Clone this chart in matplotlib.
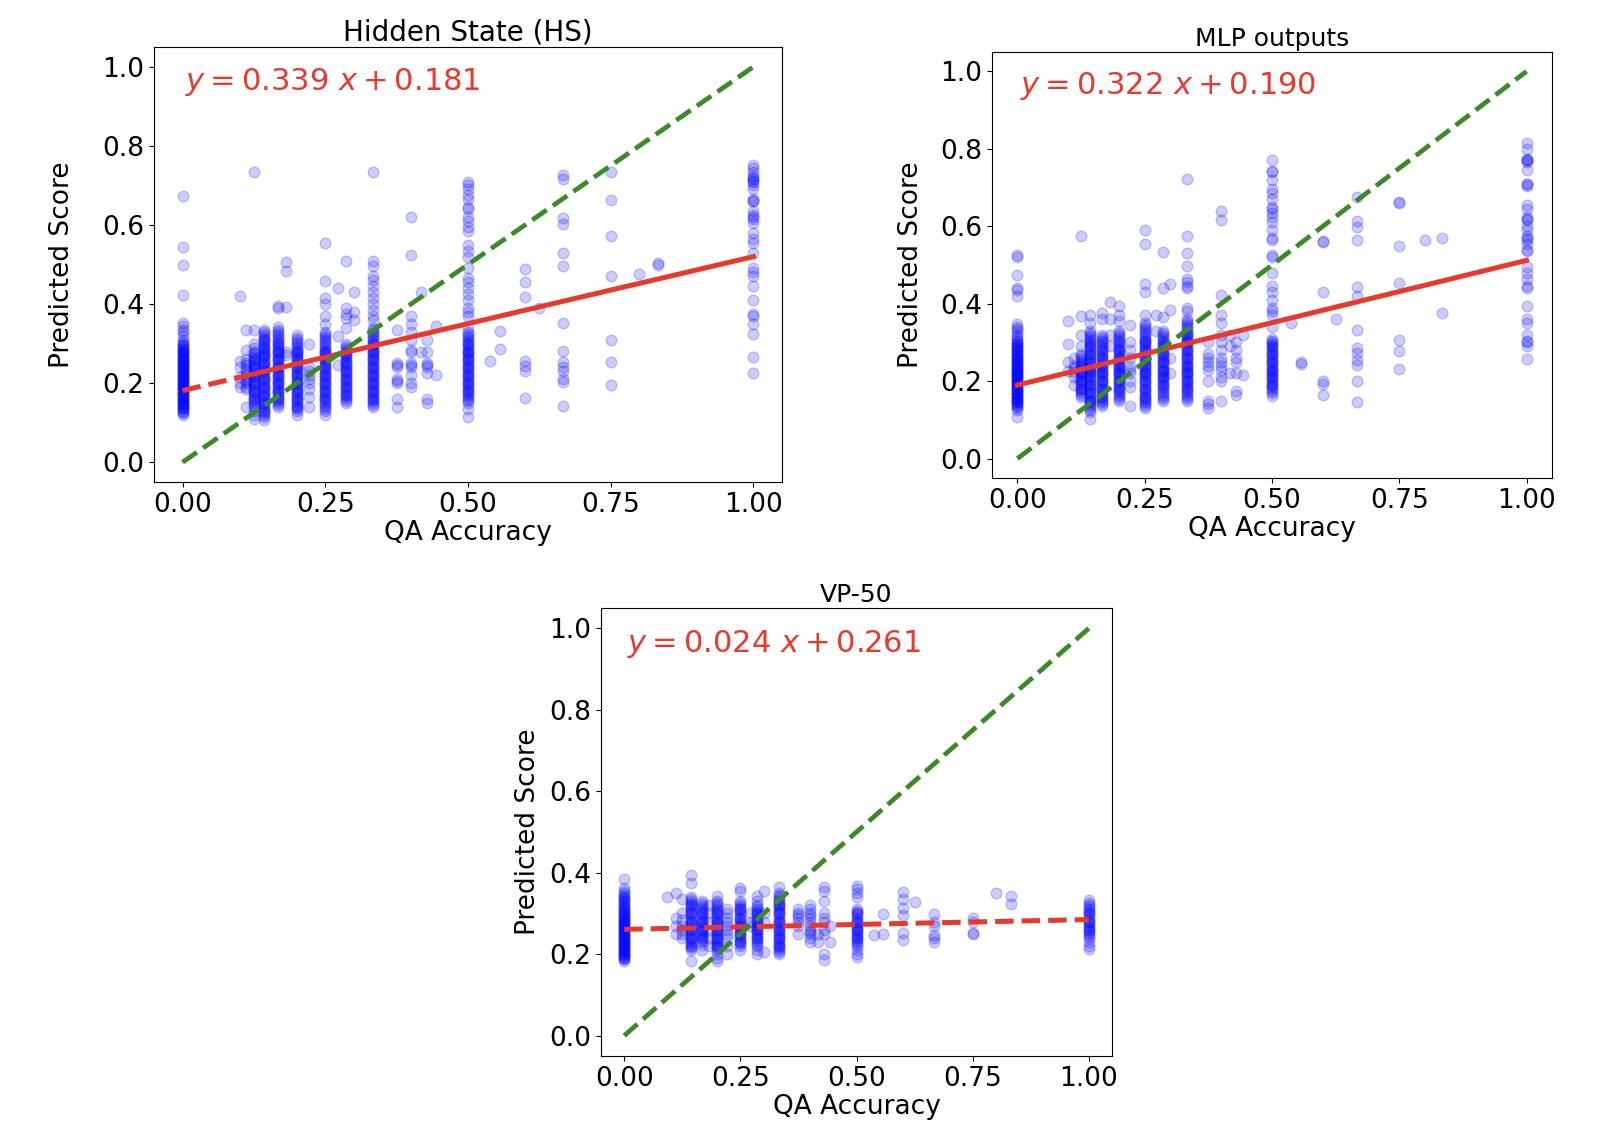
import matplotlib
matplotlib.use("Agg")
import matplotlib.pyplot as plt

# -------------------------------
# Style
# -------------------------------
POINT_COLOR = "blue"
FIT_COLOR = "#e8392b"
IDEAL_COLOR = "#3b8a26"
TICK_SIZE = 19
LABEL_SIZE = 19
EQ_SIZE = 22

# -------------------------------
# Data: QA accuracy levels and predicted scores per level
# -------------------------------
hs_acc = [0.0, 0.1, 0.111, 0.125, 0.143, 0.167, 0.182, 0.2, 0.222, 0.25, 0.273, 0.286, 0.3,
          0.333, 0.375, 0.4, 0.417, 0.429, 0.444, 0.5, 0.538, 0.556, 0.6, 0.625, 0.667,
          0.75, 0.8, 0.833, 1.0]
hs_scores = [
    [0.672, 0.544, 0.499, 0.422, 0.353, 0.345, 0.335, 0.33, 0.32, 0.31, 0.305, 0.30, 0.295,
     0.29, 0.285, 0.28, 0.275, 0.27, 0.265, 0.26, 0.255, 0.25, 0.245, 0.24, 0.235, 0.23,
     0.225, 0.22, 0.215, 0.21, 0.205, 0.20, 0.195, 0.19, 0.185, 0.18, 0.175, 0.17, 0.165,
     0.16, 0.155, 0.15, 0.145, 0.14, 0.135, 0.13, 0.125, 0.12, 0.28, 0.26, 0.25, 0.24, 0.23,
     0.22, 0.21, 0.20, 0.19, 0.18, 0.17, 0.16, 0.15, 0.14, 0.297, 0.287, 0.277, 0.267,
     0.257, 0.247, 0.237, 0.227, 0.217, 0.207, 0.197, 0.187, 0.177, 0.167, 0.157, 0.147,
     0.137, 0.127],
    [0.42, 0.255, 0.24, 0.215, 0.20, 0.19],
    [0.335, 0.285, 0.26, 0.25, 0.245, 0.235, 0.23, 0.22, 0.215, 0.205, 0.20, 0.19, 0.185,
     0.14],
    [0.735, 0.335, 0.30, 0.29, 0.28, 0.275, 0.27, 0.265, 0.26, 0.255, 0.25, 0.245, 0.24,
     0.235, 0.23, 0.225, 0.22, 0.215, 0.21, 0.205, 0.20, 0.195, 0.19, 0.185, 0.18, 0.175,
     0.17, 0.165, 0.16, 0.155, 0.15, 0.145, 0.14, 0.13, 0.12, 0.11, 0.26, 0.24, 0.22, 0.20,
     0.18, 0.16],
    [0.335, 0.33, 0.325, 0.32, 0.315, 0.31, 0.305, 0.30, 0.295, 0.29, 0.285, 0.28, 0.275,
     0.27, 0.265, 0.26, 0.255, 0.25, 0.245, 0.24, 0.235, 0.23, 0.225, 0.22, 0.215, 0.21,
     0.205, 0.20, 0.195, 0.19, 0.185, 0.18, 0.175, 0.17, 0.165, 0.16, 0.155, 0.15, 0.145,
     0.14, 0.135, 0.13, 0.125, 0.12, 0.115, 0.108, 0.31, 0.29, 0.27, 0.25, 0.23, 0.21, 0.19,
     0.17, 0.15, 0.13],
    [0.395, 0.39, 0.343, 0.335, 0.33, 0.325, 0.32, 0.315, 0.31, 0.305, 0.30, 0.295, 0.29,
     0.285, 0.28, 0.275, 0.27, 0.265, 0.26, 0.255, 0.25, 0.245, 0.24, 0.235, 0.23, 0.225,
     0.22, 0.215, 0.21, 0.205, 0.20, 0.195, 0.19, 0.185, 0.18, 0.175, 0.17, 0.165, 0.16,
     0.155, 0.15, 0.145, 0.14, 0.30, 0.28, 0.26, 0.24, 0.22, 0.20, 0.18, 0.16],
    [0.507, 0.483, 0.393, 0.28, 0.27],
    [0.321, 0.315, 0.31, 0.305, 0.30, 0.295, 0.29, 0.285, 0.28, 0.275, 0.27, 0.265, 0.26,
     0.255, 0.25, 0.245, 0.24, 0.235, 0.23, 0.225, 0.22, 0.215, 0.21, 0.205, 0.20, 0.195,
     0.19, 0.185, 0.18, 0.175, 0.17, 0.165, 0.16, 0.155, 0.15, 0.145, 0.14, 0.135, 0.13,
     0.119, 0.28, 0.26, 0.24, 0.22, 0.20, 0.18, 0.16, 0.14],
    [0.30, 0.24, 0.23, 0.22, 0.21, 0.20, 0.185, 0.165, 0.14],
    [0.555, 0.458, 0.415, 0.40, 0.37, 0.35, 0.33, 0.325, 0.32, 0.315, 0.31, 0.305, 0.30,
     0.295, 0.29, 0.285, 0.28, 0.275, 0.27, 0.265, 0.26, 0.255, 0.25, 0.245, 0.24, 0.235,
     0.23, 0.225, 0.22, 0.215, 0.21, 0.205, 0.20, 0.195, 0.19, 0.185, 0.18, 0.175, 0.17,
     0.165, 0.16, 0.155, 0.15, 0.145, 0.14, 0.135, 0.13, 0.12, 0.28, 0.26, 0.24, 0.22, 0.20,
     0.18, 0.16],
    [0.44, 0.32, 0.245],
    [0.51, 0.39, 0.375, 0.365, 0.34, 0.30, 0.295, 0.29, 0.285, 0.28, 0.275, 0.27, 0.265,
     0.26, 0.255, 0.25, 0.245, 0.24, 0.235, 0.23, 0.225, 0.22, 0.215, 0.21, 0.205, 0.20,
     0.195, 0.19, 0.185, 0.18, 0.175, 0.17, 0.165, 0.16, 0.155, 0.15, 0.27, 0.25, 0.23,
     0.21, 0.19, 0.17],
    [0.43, 0.38, 0.36],
    [0.735, 0.51, 0.495, 0.47, 0.46, 0.445, 0.43, 0.415, 0.40, 0.385, 0.37, 0.36, 0.34,
     0.335, 0.33, 0.325, 0.32, 0.315, 0.31, 0.305, 0.30, 0.295, 0.29, 0.285, 0.28, 0.275,
     0.27, 0.265, 0.26, 0.255, 0.25, 0.245, 0.24, 0.235, 0.23, 0.225, 0.22, 0.215, 0.21,
     0.205, 0.20, 0.195, 0.19, 0.185, 0.18, 0.175, 0.17, 0.165, 0.16, 0.155, 0.15, 0.145,
     0.14, 0.30, 0.28, 0.26, 0.24, 0.22, 0.20, 0.18, 0.16],
    [0.335, 0.25, 0.245, 0.24, 0.21, 0.205, 0.20, 0.16, 0.14],
    [0.62, 0.525, 0.37, 0.35, 0.33, 0.31, 0.285, 0.28, 0.25, 0.245, 0.24, 0.22, 0.20, 0.19],
    [0.43, 0.28],
    [0.31, 0.28, 0.25, 0.245, 0.24, 0.225, 0.16, 0.15],
    [0.345, 0.22],
    [0.709, 0.70, 0.69, 0.675, 0.665, 0.645, 0.64, 0.62, 0.61, 0.595, 0.585, 0.55, 0.535,
     0.52, 0.49, 0.465, 0.455, 0.44, 0.425, 0.41, 0.39, 0.38, 0.37, 0.34, 0.33, 0.325, 0.32,
     0.315, 0.31, 0.305, 0.30, 0.295, 0.29, 0.285, 0.28, 0.275, 0.27, 0.265, 0.26, 0.255,
     0.25, 0.245, 0.24, 0.235, 0.23, 0.225, 0.22, 0.215, 0.21, 0.205, 0.20, 0.195, 0.19,
     0.185, 0.18, 0.175, 0.17, 0.165, 0.16, 0.155, 0.15, 0.135, 0.115, 0.30, 0.28, 0.26,
     0.24, 0.22, 0.20, 0.18],
    [0.255],
    [0.332, 0.287],
    [0.489, 0.457, 0.417, 0.256, 0.243, 0.23, 0.163],
    [0.39],
    [0.726, 0.715, 0.617, 0.603, 0.529, 0.497, 0.352, 0.282, 0.254, 0.241, 0.23, 0.21,
     0.203, 0.143],
    [0.735, 0.663, 0.573, 0.47, 0.31, 0.254, 0.196],
    [0.477],
    [0.503, 0.50],
    [0.752, 0.745, 0.735, 0.725, 0.715, 0.708, 0.70, 0.69, 0.665, 0.66, 0.635, 0.625, 0.615,
     0.605, 0.58, 0.565, 0.555, 0.53, 0.49, 0.48, 0.47, 0.445, 0.41, 0.375, 0.37, 0.35,
     0.323, 0.265, 0.226, 0.72, 0.71, 0.66, 0.62],
]

mlp_acc = [0.0, 0.1, 0.111, 0.125, 0.143, 0.167, 0.182, 0.2, 0.222, 0.25, 0.273, 0.286, 0.3,
           0.333, 0.375, 0.4, 0.417, 0.429, 0.444, 0.5, 0.538, 0.556, 0.6, 0.625, 0.667,
           0.75, 0.8, 0.833, 1.0]
mlp_scores = [
    [0.526, 0.52, 0.475, 0.44, 0.435, 0.419, 0.348, 0.34, 0.335, 0.33, 0.32, 0.31, 0.305,
     0.30, 0.295, 0.29, 0.285, 0.28, 0.275, 0.27, 0.265, 0.26, 0.255, 0.25, 0.245, 0.24,
     0.235, 0.23, 0.225, 0.22, 0.215, 0.21, 0.205, 0.20, 0.195, 0.19, 0.185, 0.18, 0.175,
     0.17, 0.165, 0.16, 0.155, 0.15, 0.145, 0.14, 0.135, 0.13, 0.125, 0.107, 0.28, 0.26,
     0.25, 0.24, 0.23, 0.22, 0.21, 0.20, 0.19, 0.18, 0.17, 0.16, 0.15, 0.317, 0.297, 0.287,
     0.277, 0.267, 0.257, 0.247, 0.237, 0.227, 0.217, 0.207, 0.197, 0.187, 0.177, 0.167,
     0.157, 0.147, 0.137],
    [0.355, 0.297, 0.25, 0.227],
    [0.26, 0.24, 0.235, 0.225, 0.21, 0.19],
    [0.574, 0.368, 0.32, 0.29, 0.27, 0.265, 0.26, 0.255, 0.25, 0.245, 0.24, 0.235, 0.23,
     0.225, 0.22, 0.215, 0.21, 0.205, 0.20, 0.195, 0.19, 0.185, 0.18, 0.175, 0.17, 0.165,
     0.16, 0.24, 0.22, 0.20, 0.18],
    [0.37, 0.35, 0.33, 0.325, 0.32, 0.315, 0.31, 0.305, 0.30, 0.295, 0.29, 0.285, 0.28,
     0.275, 0.27, 0.265, 0.26, 0.255, 0.25, 0.245, 0.24, 0.235, 0.23, 0.225, 0.22, 0.215,
     0.21, 0.205, 0.20, 0.195, 0.19, 0.185, 0.18, 0.175, 0.17, 0.165, 0.16, 0.155, 0.15,
     0.145, 0.14, 0.135, 0.13, 0.125, 0.12, 0.103, 0.29, 0.27, 0.25, 0.23, 0.21, 0.19,
     0.17, 0.15],
    [0.375, 0.36, 0.32, 0.315, 0.31, 0.305, 0.30, 0.295, 0.29, 0.285, 0.28, 0.275, 0.27,
     0.265, 0.26, 0.255, 0.25, 0.245, 0.24, 0.235, 0.23, 0.225, 0.22, 0.215, 0.21, 0.205,
     0.20, 0.195, 0.19, 0.185, 0.18, 0.175, 0.17, 0.165, 0.16, 0.155, 0.15, 0.145, 0.14,
     0.135, 0.28, 0.26, 0.24, 0.22, 0.20, 0.18, 0.16],
    [0.405, 0.36, 0.32, 0.29],
    [0.394, 0.37, 0.355, 0.33, 0.325, 0.32, 0.315, 0.31, 0.305, 0.30, 0.295, 0.29, 0.285,
     0.28, 0.275, 0.27, 0.265, 0.26, 0.255, 0.25, 0.245, 0.24, 0.235, 0.23, 0.225, 0.22,
     0.215, 0.21, 0.205, 0.20, 0.195, 0.19, 0.185, 0.18, 0.175, 0.17, 0.165, 0.16, 0.155,
     0.15, 0.28, 0.26, 0.24, 0.22, 0.20, 0.18],
    [0.345, 0.30, 0.28, 0.26, 0.24, 0.23, 0.22, 0.20, 0.185, 0.135],
    [0.591, 0.554, 0.45, 0.43, 0.37, 0.35, 0.345, 0.34, 0.335, 0.33, 0.325, 0.32, 0.315,
     0.31, 0.305, 0.30, 0.295, 0.29, 0.285, 0.28, 0.275, 0.27, 0.265, 0.26, 0.255, 0.25,
     0.245, 0.24, 0.235, 0.23, 0.225, 0.22, 0.215, 0.21, 0.205, 0.20, 0.195, 0.19, 0.185,
     0.18, 0.175, 0.17, 0.165, 0.16, 0.155, 0.15, 0.145, 0.14, 0.135, 0.13, 0.30, 0.28,
     0.26, 0.24, 0.22, 0.20, 0.18, 0.16],
    [0.37, 0.33],
    [0.533, 0.44, 0.365, 0.33, 0.325, 0.32, 0.315, 0.31, 0.305, 0.30, 0.295, 0.29, 0.285,
     0.28, 0.275, 0.27, 0.265, 0.26, 0.255, 0.25, 0.245, 0.24, 0.235, 0.23, 0.225, 0.22,
     0.215, 0.21, 0.205, 0.20, 0.195, 0.19, 0.185, 0.18, 0.175, 0.17, 0.165, 0.16, 0.155,
     0.15, 0.29, 0.27, 0.25, 0.23, 0.21, 0.19],
    [0.45, 0.385, 0.26, 0.22],
    [0.723, 0.574, 0.532, 0.498, 0.465, 0.455, 0.445, 0.44, 0.39, 0.38, 0.36, 0.355, 0.35,
     0.345, 0.34, 0.335, 0.33, 0.325, 0.32, 0.315, 0.31, 0.305, 0.30, 0.295, 0.29, 0.285,
     0.28, 0.275, 0.27, 0.265, 0.26, 0.255, 0.25, 0.245, 0.24, 0.235, 0.23, 0.225, 0.22,
     0.215, 0.21, 0.205, 0.20, 0.195, 0.19, 0.185, 0.18, 0.175, 0.17, 0.165, 0.16, 0.155,
     0.15, 0.32, 0.30, 0.28, 0.26, 0.24, 0.22, 0.20, 0.18],
    [0.30, 0.27, 0.26, 0.25, 0.24, 0.23, 0.20, 0.15, 0.14, 0.13],
    [0.64, 0.616, 0.423, 0.37, 0.35, 0.32, 0.30, 0.28, 0.26, 0.25, 0.24, 0.23, 0.21, 0.20,
     0.15],
    [0.32, 0.29, 0.22],
    [0.30, 0.28, 0.26, 0.25, 0.22, 0.175, 0.165],
    [0.32, 0.215],
    [0.772, 0.742, 0.74, 0.72, 0.695, 0.685, 0.67, 0.65, 0.645, 0.635, 0.625, 0.61, 0.59,
     0.57, 0.565, 0.525, 0.52, 0.48, 0.445, 0.43, 0.41, 0.39, 0.38, 0.37, 0.34, 0.31, 0.305,
     0.30, 0.295, 0.29, 0.285, 0.28, 0.275, 0.27, 0.265, 0.26, 0.255, 0.25, 0.245, 0.24,
     0.235, 0.23, 0.225, 0.22, 0.215, 0.21, 0.205, 0.20, 0.195, 0.19, 0.185, 0.18, 0.175,
     0.17, 0.163, 0.29, 0.27, 0.25, 0.23, 0.21, 0.19],
    [0.35],
    [0.25, 0.245],
    [0.562, 0.56, 0.43, 0.20, 0.192, 0.165],
    [0.361],
    [0.675, 0.613, 0.598, 0.565, 0.444, 0.42, 0.333, 0.285, 0.272, 0.254, 0.241, 0.20, 0.147],
    [0.663, 0.66, 0.55, 0.454, 0.306, 0.277, 0.232],
    [0.564],
    [0.571, 0.377],
    [0.814, 0.80, 0.775, 0.77, 0.765, 0.745, 0.71, 0.705, 0.655, 0.645, 0.625, 0.615, 0.60,
     0.59, 0.575, 0.565, 0.555, 0.54, 0.535, 0.495, 0.48, 0.465, 0.445, 0.44, 0.395, 0.36,
     0.35, 0.32, 0.305, 0.30, 0.29, 0.257, 0.77, 0.71, 0.62, 0.57],
]

vp_acc = [0.0, 0.091, 0.111, 0.125, 0.143, 0.167, 0.182, 0.2, 0.222, 0.25, 0.273, 0.286,
          0.3, 0.333, 0.375, 0.4, 0.417, 0.429, 0.444, 0.5, 0.538, 0.556, 0.6, 0.625, 0.667,
          0.75, 0.8, 0.833, 1.0]
vp_scores = [
    [0.385, 0.363, 0.355, 0.35, 0.345, 0.34, 0.335, 0.33, 0.325, 0.32, 0.315, 0.31, 0.305,
     0.30, 0.295, 0.29, 0.285, 0.28, 0.275, 0.27, 0.265, 0.26, 0.255, 0.25, 0.245, 0.24,
     0.235, 0.23, 0.225, 0.22, 0.215, 0.21, 0.205, 0.20, 0.195, 0.19, 0.184, 0.30, 0.29,
     0.28, 0.27, 0.26, 0.25, 0.24, 0.23, 0.22, 0.21, 0.20, 0.19, 0.337, 0.327, 0.317,
     0.307, 0.297, 0.287, 0.277, 0.267, 0.257, 0.247, 0.237, 0.227, 0.217, 0.207, 0.197,
     0.187],
    [0.34],
    [0.351, 0.288, 0.27, 0.25],
    [0.336, 0.30, 0.285, 0.27, 0.26, 0.25, 0.24],
    [0.395, 0.374, 0.34, 0.335, 0.33, 0.325, 0.32, 0.315, 0.31, 0.305, 0.30, 0.295, 0.29,
     0.285, 0.28, 0.275, 0.27, 0.265, 0.26, 0.255, 0.25, 0.245, 0.24, 0.235, 0.23, 0.225,
     0.22, 0.215, 0.21, 0.184, 0.32, 0.30, 0.28, 0.26, 0.24, 0.22],
    [0.33, 0.325, 0.32, 0.315, 0.31, 0.305, 0.30, 0.295, 0.29, 0.285, 0.28, 0.275, 0.27,
     0.265, 0.26, 0.255, 0.25, 0.245, 0.24, 0.235, 0.23, 0.222, 0.21, 0.30, 0.28, 0.26,
     0.24],
    [0.32, 0.30, 0.28, 0.26, 0.24, 0.22],
    [0.342, 0.33, 0.325, 0.32, 0.315, 0.31, 0.305, 0.30, 0.295, 0.29, 0.285, 0.28, 0.275,
     0.27, 0.265, 0.26, 0.255, 0.25, 0.245, 0.24, 0.235, 0.23, 0.225, 0.22, 0.215, 0.21,
     0.20, 0.19, 0.184, 0.30, 0.28, 0.26, 0.24, 0.22],
    [0.31, 0.30, 0.29, 0.28, 0.27, 0.26, 0.25, 0.24, 0.22, 0.20],
    [0.363, 0.355, 0.33, 0.325, 0.32, 0.315, 0.31, 0.305, 0.30, 0.295, 0.29, 0.285, 0.28,
     0.275, 0.27, 0.265, 0.26, 0.255, 0.25, 0.245, 0.24, 0.235, 0.23, 0.225, 0.22, 0.21,
     0.31, 0.29, 0.27, 0.25, 0.23],
    [0.30, 0.28, 0.27],
    [0.342, 0.33, 0.32, 0.315, 0.31, 0.305, 0.30, 0.295, 0.29, 0.285, 0.28, 0.275, 0.27,
     0.265, 0.26, 0.255, 0.25, 0.245, 0.24, 0.235, 0.23, 0.225, 0.22, 0.21, 0.20, 0.30,
     0.28, 0.26, 0.24],
    [0.355, 0.30, 0.28, 0.205],
    [0.364, 0.35, 0.345, 0.34, 0.335, 0.33, 0.325, 0.32, 0.315, 0.31, 0.305, 0.30, 0.295,
     0.29, 0.285, 0.28, 0.275, 0.27, 0.265, 0.26, 0.255, 0.25, 0.245, 0.24, 0.235, 0.23,
     0.225, 0.22, 0.215, 0.21, 0.205, 0.20, 0.32, 0.30, 0.28, 0.26, 0.24, 0.22],
    [0.31, 0.30, 0.295, 0.29, 0.28, 0.27, 0.25],
    [0.32, 0.31, 0.30, 0.295, 0.29, 0.28, 0.27, 0.26, 0.255, 0.25, 0.24, 0.23],
    [0.25, 0.23],
    [0.364, 0.354, 0.33, 0.30, 0.29, 0.28, 0.26, 0.25, 0.20, 0.185],
    [0.27, 0.23],
    [0.367, 0.36, 0.35, 0.34, 0.31, 0.305, 0.30, 0.295, 0.29, 0.285, 0.28, 0.275, 0.27,
     0.265, 0.26, 0.255, 0.25, 0.245, 0.24, 0.235, 0.23, 0.225, 0.22, 0.21, 0.20, 0.193,
     0.30, 0.28, 0.26, 0.24],
    [0.246],
    [0.298, 0.25],
    [0.352, 0.336, 0.314, 0.297, 0.253, 0.235],
    [0.327],
    [0.298, 0.279, 0.27, 0.248, 0.24, 0.229],
    [0.29, 0.279, 0.253, 0.25],
    [0.349],
    [0.344, 0.323],
    [0.332, 0.325, 0.32, 0.315, 0.31, 0.305, 0.30, 0.295, 0.29, 0.285, 0.28, 0.275, 0.27,
     0.265, 0.26, 0.255, 0.25, 0.245, 0.24, 0.23, 0.22, 0.213, 0.30, 0.28, 0.26],
]

# fitted lines (slope, intercept) as printed on each panel
hs_fit = (0.339, 0.181)
mlp_fit = (0.322, 0.190)
vp_fit = (0.024, 0.261)

# where the red fit line turns from dashed to solid
hs_solid_from = 0.1
mlp_solid_from = 0.0
vp_solid_from = 1.0


def draw_panel(ax, acc, scores, fit, solid_from, title, title_size, ypad):
    xs = [a for a, col in zip(acc, scores) for _ in col]
    ys = [v for col in scores for v in col]
    ax.scatter(xs, ys, s=60, color=POINT_COLOR, alpha=0.2)

    slope, icpt = fit
    if solid_from > 0:
        ax.plot([0, solid_from], [icpt, slope * solid_from + icpt], "--",
                color=FIT_COLOR, lw=3.6)
    if solid_from < 1:
        ax.plot([solid_from, 1], [slope * solid_from + icpt, slope + icpt], "-",
                color=FIT_COLOR, lw=3.6)

    ax.plot([0, 1], [0, 1], "--", color=IDEAL_COLOR, lw=3.4)

    ax.text(0.05, 0.92, rf"$y = {slope:.3f}\ x + {icpt:.3f}$", color=FIT_COLOR,
            fontsize=EQ_SIZE, transform=ax.transAxes, va="center", ha="left")

    ax.set_xticks([0, 0.25, 0.5, 0.75, 1.0])
    ax.set_xticklabels(["0.00", "0.25", "0.50", "0.75", "1.00"])
    ax.set_yticks([0, 0.2, 0.4, 0.6, 0.8, 1.0])
    ax.tick_params(labelsize=TICK_SIZE)
    ax.set_xlabel("QA Accuracy", fontsize=LABEL_SIZE, labelpad=2)
    ax.set_ylabel("Predicted Score", fontsize=LABEL_SIZE, labelpad=ypad)
    ax.set_title(title, fontsize=title_size, pad=4)


W, H = 1610, 1144
fig = plt.figure(figsize=(W / 100, H / 100), dpi=100)


def box(left, top, right, bottom):
    return [left / W, 1 - bottom / H, (right - left) / W, (bottom - top) / H]


ax_hs = fig.add_axes(box(154, 47, 782, 482))
ax_mlp = fig.add_axes(box(992, 52, 1552, 478))
ax_vp = fig.add_axes(box(601, 608, 1112, 1056))

draw_panel(ax_hs, hs_acc, hs_scores, hs_fit, hs_solid_from, "Hidden State (HS)", 20, 20)
draw_panel(ax_mlp, mlp_acc, mlp_scores, mlp_fit, mlp_solid_from, "MLP outputs", 18, 12)
draw_panel(ax_vp, vp_acc, vp_scores, vp_fit, vp_solid_from, "VP-50", 18, 6)

fig.savefig("out.png", dpi=100)
